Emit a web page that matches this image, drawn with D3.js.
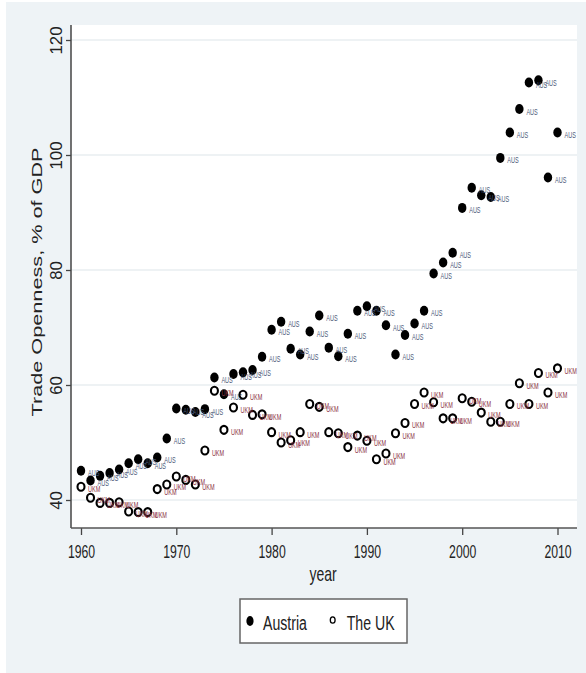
<!DOCTYPE html>
<html>
<head>
<meta charset="utf-8">
<script src="https://cdn.jsdelivr.net/npm/d3@7"></script>
<style>
html,body{margin:0;padding:0;background:#ffffff;}
svg{display:block;}
</style>
</head>
<body>
<svg id="chart" width="586" height="673"></svg>
<script>
const years = d3.range(1960, 2011);
const austria = [45.1,43.4,44.2,44.7,45.3,46.4,47.1,46.4,47.4,50.7,
  55.9,55.7,55.3,55.8,61.3,58.4,61.9,62.2,62.6,64.9,
  69.6,71.0,66.3,65.3,69.3,72.1,66.5,65.0,68.9,72.9,
  73.7,72.9,70.4,65.3,68.7,70.7,72.9,79.4,81.3,83.0,
  90.8,94.3,93.0,92.7,99.5,103.9,108.0,112.6,113.0,96.1,103.9];
const uk = [42.3,40.4,39.5,39.5,39.6,38.0,37.9,37.9,41.9,42.7,
  44.1,43.5,42.7,48.6,59.0,52.2,56.1,58.3,54.8,54.9,
  51.8,50.0,50.4,51.8,56.7,56.2,51.8,51.6,49.2,51.2,
  50.3,47.1,48.1,51.6,53.4,56.7,58.7,57.0,54.2,54.2,
  57.7,57.1,55.2,53.6,53.6,56.7,60.3,56.7,62.1,58.7,62.9];
const seriesNames = ["Austria", "The UK"];
const pointLabels = ["AUS", "UKM"];
const yTicks = [40, 60, 80, 100, 120];
const xTicks = [1960, 1970, 1980, 1990, 2000, 2010];
const yTitle = "Trade Openness, % of GDP";
const xTitle = "year";

const svg = d3.select("#chart");
const sans = "'Liberation Sans', Arial, sans-serif";

// outer panel
svg.append("rect").attr("x", 6).attr("y", 2).attr("width", 580).attr("height", 671).attr("fill", "#eef3f6");

const plot = {left: 71, right: 577, top: 25, bottom: 528};
svg.append("rect").attr("x", plot.left).attr("y", plot.top)
  .attr("width", plot.right - plot.left).attr("height", plot.bottom - plot.top).attr("fill", "#ffffff");

const x = d3.scaleLinear().domain([1960, 2010]).range([81, 557.5]);
const y = d3.scaleLinear().domain([40, 120]).range([500, 40]);

// gridlines
svg.append("g").selectAll("line").data(yTicks).join("line")
  .attr("x1", plot.left).attr("x2", plot.right)
  .attr("y1", d => y(d)).attr("y2", d => y(d))
  .attr("stroke", "#e9eef1").attr("stroke-width", 1.5);

// y axis
const yAxis = svg.append("g").attr("transform", `translate(${plot.left},0)`)
  .call(d3.axisLeft(y).tickValues(yTicks).tickSize(5).tickFormat(d3.format("d")));
yAxis.select(".domain").remove();
yAxis.selectAll(".tick line").attr("stroke", "#444").attr("stroke-width", 1.3);
yAxis.selectAll(".tick text")
  .attr("x", null).attr("dy", null)
  .attr("transform", "translate(-9.3,0) rotate(-90)")
  .attr("text-anchor", "middle")
  .attr("font-family", sans).attr("font-size", 16.8).attr("fill", "#222");
svg.append("line").attr("x1", plot.left).attr("x2", plot.left)
  .attr("y1", plot.top).attr("y2", plot.bottom).attr("stroke", "#444").attr("stroke-width", 1.5);

// x axis
const xAxis = svg.append("g").attr("transform", `translate(0,${plot.bottom})`)
  .call(d3.axisBottom(x).tickValues(xTicks).tickSize(7).tickFormat(d3.format("d")));
xAxis.select(".domain").remove();
xAxis.selectAll(".tick line").attr("stroke", "#444").attr("stroke-width", 1.3);
xAxis.selectAll(".tick text")
  .attr("y", null).attr("dy", null)
  .attr("transform", "translate(0,30) scale(0.68,1)")
  .attr("text-anchor", "middle")
  .attr("font-family", sans).attr("font-size", 18).attr("fill", "#222");
svg.append("line").attr("x1", plot.left).attr("x2", plot.right)
  .attr("y1", plot.bottom).attr("y2", plot.bottom).attr("stroke", "#555").attr("stroke-width", 1.6);

// axis titles
svg.append("text").text(yTitle)
  .attr("transform", "translate(41.7,282) rotate(-90) scale(1,0.71)")
  .attr("text-anchor", "middle").attr("font-family", sans).attr("font-size", 21.7).attr("fill", "#222");
svg.append("text").text(xTitle)
  .attr("transform", "translate(323,581) scale(0.7,1)")
  .attr("text-anchor", "middle").attr("font-family", sans).attr("font-size", 20).attr("fill", "#222");

// data
const dataA = years.map((yr, i) => ({yr, v: austria[i]}));
const dataU = years.map((yr, i) => ({yr, v: uk[i]}));

const gA = svg.append("g");
gA.selectAll("ellipse").data(dataA).join("ellipse")
  .attr("cx", d => x(d.yr)).attr("cy", d => y(d.v))
  .attr("rx", 4.2).attr("ry", 5).attr("fill", "#000");
gA.selectAll("text").data(dataA).join("text")
  .text(pointLabels[0])
  .attr("transform", d => `translate(${x(d.yr) + 7},${y(d.v) + 5.5}) scale(0.65,1)`)
  .attr("font-family", sans).attr("font-size", 8.5).attr("fill", "#4a5878");

const gU = svg.append("g");
gU.selectAll("ellipse").data(dataU).join("ellipse")
  .attr("cx", d => x(d.yr)).attr("cy", d => y(d.v))
  .attr("rx", 3.5).attr("ry", 4).attr("fill", "none")
  .attr("stroke", "#000").attr("stroke-width", 2.1);
gU.selectAll("text").data(dataU).join("text")
  .text(pointLabels[1])
  .attr("transform", d => `translate(${x(d.yr) + 7},${y(d.v) + 5.5}) scale(0.65,1)`)
  .attr("font-family", sans).attr("font-size", 8.5).attr("fill", "#8b3344");

// legend
const lg = svg.append("g");
lg.append("rect").attr("x", 240).attr("y", 599).attr("width", 167).attr("height", 44)
  .attr("fill", "#ffffff").attr("stroke", "#666").attr("stroke-width", 1.5);
lg.append("ellipse").attr("cx", 250).attr("cy", 621).attr("rx", 3.6).attr("ry", 5).attr("fill", "#000");
lg.append("text").text(seriesNames[0])
  .attr("transform", "translate(263,630) scale(0.707,1)")
  .attr("font-family", sans).attr("font-size", 20).attr("fill", "#222");
lg.append("ellipse").attr("cx", 332.7).attr("cy", 620).attr("rx", 2.4).attr("ry", 3.2)
  .attr("fill", "none").attr("stroke", "#000").attr("stroke-width", 1.3);
lg.append("text").text(seriesNames[1])
  .attr("transform", "translate(346.7,630) scale(0.707,1)")
  .attr("font-family", sans).attr("font-size", 20).attr("fill", "#222");
</script>
</body>
</html>
